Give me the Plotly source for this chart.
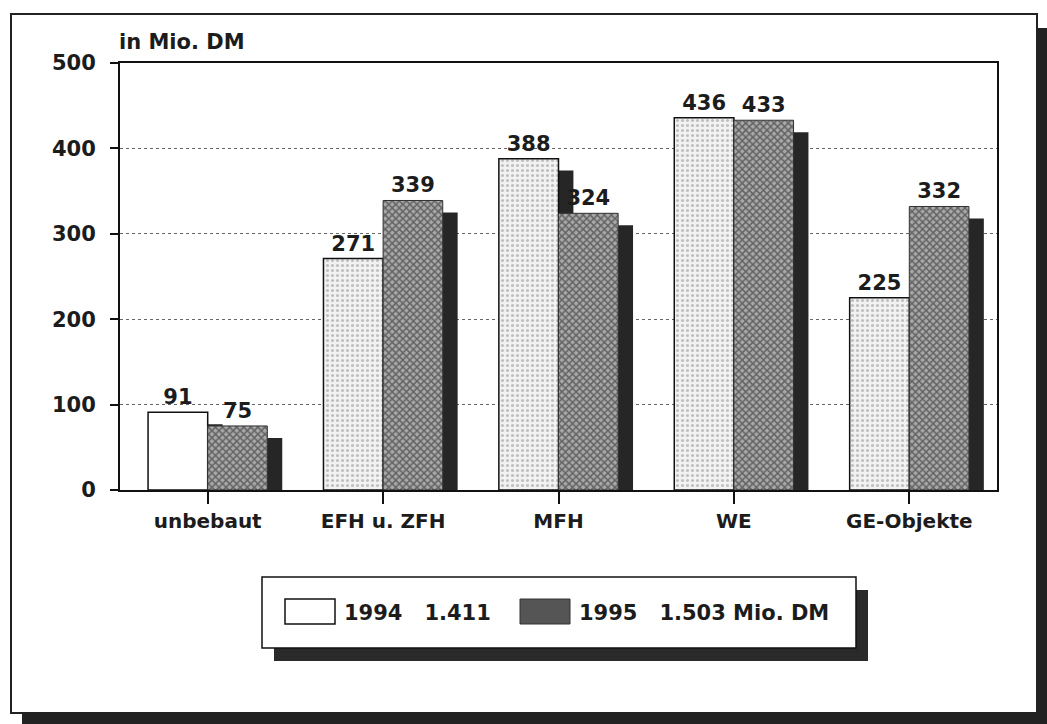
import plotly.graph_objects as go

# Data: purchase volume by property type, in Mio. DM
categories = ["unbebaut", "EFH u. ZFH", "MFH", "WE", "GE-Objekte"]
values_1994 = [91, 271, 388, 436, 225]
values_1995 = [75, 339, 324, 433, 332]
legend_1994 = "1994   1.411"
legend_1995 = "1995   1.503 Mio. DM"
y_title = "in Mio. DM"
y_ticks = [0, 100, 200, 300, 400, 500]

W, H = 1047, 724
ML, MR, MT, MB = 120, 50, 63, 234
PW, PH = W - ML - MR, H - MT - MB

FONT = "DejaVu Sans, Verdana, sans-serif"
INK = "#1c1c1c"
BAR_W = 0.34          # bar width in category units
SH_DX = 0.085         # drop-shadow horizontal shift
SH_DY = 14            # drop-shadow vertical drop (value units)


def xp(px):
    return (px - ML) / PW


def yp(py):
    return (H - MB - py) / PH


def bold(size):
    return dict(family=FONT, size=size, color=INK, weight="bold")


fig = go.Figure()

# shadow of the 1994 bars (mostly hidden behind the 1995 bars)
fig.add_trace(go.Bar(
    x=categories, y=[v - SH_DY for v in values_1994],
    offset=-BAR_W + SH_DX, width=BAR_W,
    marker=dict(color="#262626", line=dict(width=0)),
    hoverinfo="skip", showlegend=False,
))
# 1994 bars: white / light stipple
fig.add_trace(go.Bar(
    x=categories, y=values_1994, name=legend_1994,
    offset=-BAR_W, width=BAR_W,
    text=[str(v) for v in values_1994], textposition="outside",
    textfont=bold(21),
    cliponaxis=False,
    marker=dict(
        color="white",
        line=dict(color="#111", width=1.5),
        pattern=dict(shape=["", ".", ".", ".", "."], fgcolor="#8c8c8c",
                     bgcolor="#f2f2f2", size=5, solidity=0.3),
    ),
    showlegend=False,
))
# shadow of the 1995 bars
fig.add_trace(go.Bar(
    x=categories, y=[v - SH_DY for v in values_1995],
    offset=SH_DX, width=BAR_W,
    marker=dict(color="#262626", line=dict(width=0)),
    hoverinfo="skip", showlegend=False,
))
# 1995 bars: dark cross-hatch
fig.add_trace(go.Bar(
    x=categories, y=values_1995, name=legend_1995,
    offset=0, width=BAR_W,
    text=[str(v) for v in values_1995], textposition="outside",
    textfont=bold(21),
    cliponaxis=False,
    marker=dict(
        color="#6a6a6a",
        line=dict(color="#333", width=1),
        pattern=dict(shape="x", fgcolor="#1e1e1e", bgcolor="#a8a8a8",
                     size=5, solidity=0.5),
    ),
    showlegend=False,
))

shapes = [
    # outer frame drop shadow
    dict(type="rect", xref="paper", yref="paper", layer="below",
         x0=xp(22), x1=xp(1047), y0=yp(724), y1=yp(28),
         fillcolor="#222", line=dict(width=0)),
    # outer frame
    dict(type="rect", xref="paper", yref="paper", layer="below",
         x0=xp(11), x1=xp(1037), y0=yp(713), y1=yp(14),
         fillcolor="white", line=dict(color="#222", width=2)),
    # legend box shadow
    dict(type="rect", xref="paper", yref="paper",
         x0=xp(274), x1=xp(868), y0=yp(661), y1=yp(590),
         fillcolor="#2a2a2a", line=dict(width=0)),
    # legend box
    dict(type="rect", xref="paper", yref="paper",
         x0=xp(262), x1=xp(856), y0=yp(648), y1=yp(577),
         fillcolor="white", line=dict(color="#111", width=1.5)),
    # legend swatches
    dict(type="rect", xref="paper", yref="paper",
         x0=xp(285), x1=xp(335), y0=yp(624), y1=yp(599),
         fillcolor="white", line=dict(color="#111", width=1.5)),
    dict(type="rect", xref="paper", yref="paper",
         x0=xp(520), x1=xp(570), y0=yp(624), y1=yp(599),
         fillcolor="#555555", line=dict(color="#333", width=1)),
]

annotations = [
    dict(text=y_title, xref="paper", yref="paper", x=xp(117), y=yp(42),
         xanchor="left", yanchor="middle", showarrow=False,
         font=bold(21)),
    dict(text=legend_1994, xref="paper", yref="paper", x=xp(342), y=yp(613),
         xanchor="left", yanchor="middle", showarrow=False,
         font=bold(21)),
    dict(text=legend_1995, xref="paper", yref="paper", x=xp(577), y=yp(613),
         xanchor="left", yanchor="middle", showarrow=False,
         font=bold(21)),
]

fig.update_layout(
    width=W, height=H,
    margin=dict(l=ML, r=MR, t=MT, b=MB, pad=0),
    paper_bgcolor="white", plot_bgcolor="rgba(0,0,0,0)",
    barmode="overlay",
    showlegend=False,
    font=bold(21),
    shapes=shapes, annotations=annotations,
    xaxis=dict(
        type="category", range=[-0.5, 4.5],
        showline=True, linecolor="#111", linewidth=2, mirror=True,
        ticks="outside", ticklen=12, tickcolor="#111", tickwidth=1.5,
        showgrid=False, zeroline=False,
        tickfont=bold(20),
        fixedrange=True,
    ),
    yaxis=dict(
        range=[0, 500], tickvals=y_ticks,
        showline=True, linecolor="#111", linewidth=2, mirror=True,
        ticks="outside", ticklen=8, tickcolor="#111", tickwidth=1.5,
        showgrid=True, gridcolor="#666", griddash="dot", gridwidth=1,
        zeroline=False,
        tickfont=bold(21),
        ticklabelstandoff=10,
        fixedrange=True,
    ),
)

fig.write_html("out.html")
